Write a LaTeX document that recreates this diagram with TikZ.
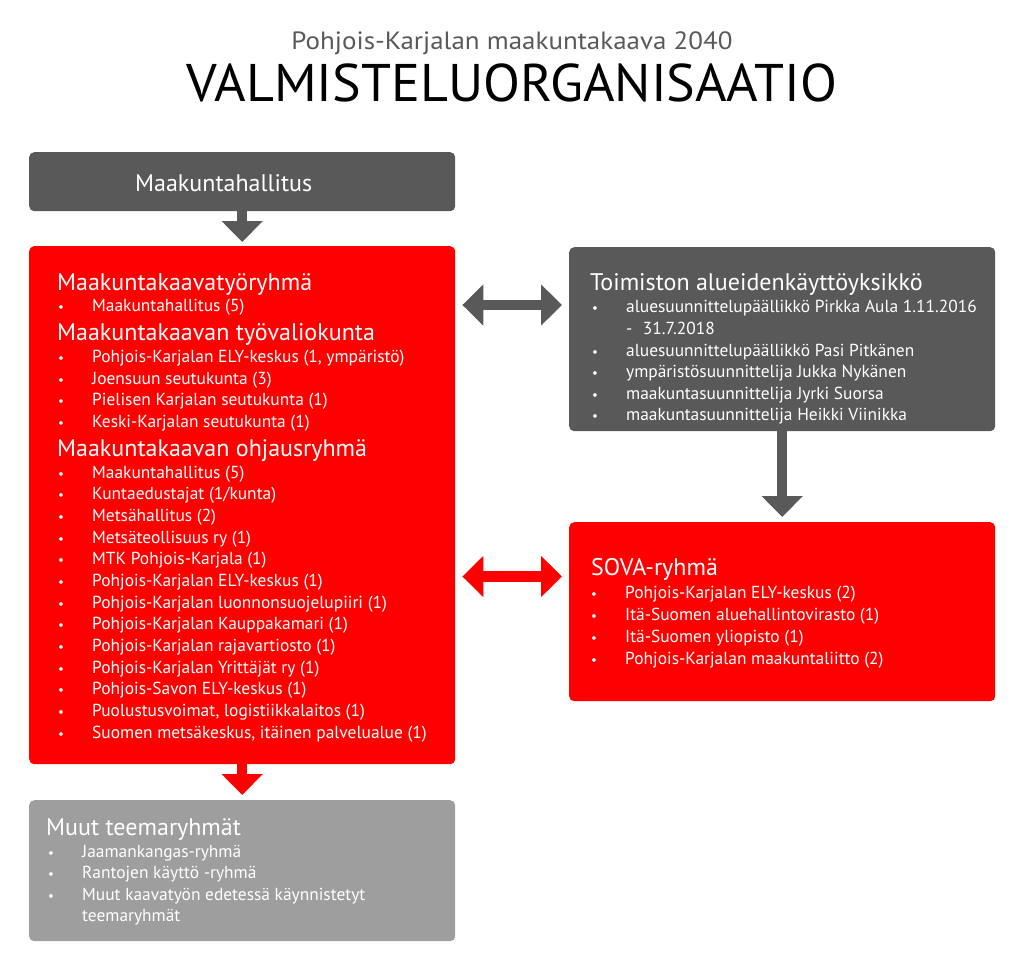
\documentclass[tikz,border=0pt]{standalone}
\usepackage{fontspec}
\setmainfont{PT Sans}
\usepackage{graphicx}
\usetikzlibrary{arrows.meta}
\definecolor{dgray}{HTML}{595959}
\definecolor{lgray}{HTML}{9E9E9E}
\definecolor{vred}{HTML}{FF0000}
\newcommand\bitem[5]{\node[bul] (b#5) at (#1,#3) {•}; \node[itm] (t#5) at (#2,#3) {#4};}
\tikzset{
  panel/.style={rounded corners=5pt, draw=none, inner sep=0, anchor=north west},
  hd/.style={anchor=base west, text=white, font=\fontsize{24}{28}\selectfont, inner sep=0},
  itm/.style={anchor=base west, text=white, font=\fontsize{17.4}{21}\selectfont, inner sep=0},
  bul/.style={anchor=base west, text=white, font=\fontsize{13}{15}\selectfont, inner sep=0},
  blockarrow/.style={line width=10.5pt, -{Triangle[width=40pt,length=21pt]}},
  dblarrow/.style={line width=10.5pt, {Triangle[width=40pt,length=21pt]}-{Triangle[width=40pt,length=21pt]}},
}
\begin{document}
\begin{tikzpicture}[x=1pt,y=-1pt]
\useasboundingbox (0,0) rectangle (1024,967);
% titles
\node[anchor=base, inner sep=0, text=dgray, font=\fontsize{25}{30}\selectfont] (sub) at (512,49)
  {\resizebox{441pt}{\height}{Pohjois-Karjalan maakuntakaava 2040}};
\node[anchor=base, inner sep=0, text=black, font=\fontsize{53}{60}\selectfont] (title) at (512,101)
  {\resizebox{651pt}{\height}{VALMISTELUORGANISAATIO}};
% panels
\node[panel, fill=dgray, minimum width=426, minimum height=59] (mh) at (29,152) {};
\node[panel, fill=vred, minimum width=426, minimum height=518] (red) at (29,246) {};
\node[panel, fill=dgray, minimum width=426, minimum height=184] (toim) at (569,247) {};
\node[panel, fill=vred, minimum width=426, minimum height=179] (sova) at (569,522) {};
\node[panel, fill=lgray, minimum width=426, minimum height=141] (muut) at (29,800) {};
% connectors
\coordinate (ya) at (0,305);
\coordinate (yb) at (0,576.5);
\draw[blockarrow, dgray, shorten >=4pt] (mh.south) -- (red.north);
\draw[dblarrow, dgray, shorten <=7pt, shorten >=7pt] (red.east |- ya) -- (toim.west |- ya);
\draw[blockarrow, dgray, shorten >=5pt] (toim.south) -- (sova.north);
\draw[dblarrow, vred, shorten <=7pt, shorten >=7pt] (red.east |- yb) -- (sova.west |- yb);
\draw[blockarrow, vred, shorten >=5pt] (red.south) -- (muut.north);
% Maakuntahallitus
\node[hd] (mhl) at (135,191) {Maakuntahallitus};
% left red panel
\node[hd] (h1) at (57,290) {Maakuntakaavatyöryhmä};
\bitem{58}{92}{311}{Maakuntahallitus (5)}{a1}
\node[hd] (h2) at (57,340) {Maakuntakaavan työvaliokunta};
\bitem{58}{92}{362}{Pohjois-Karjalan ELY-keskus (1, ympäristö)}{a2}
\bitem{58}{92}{384}{Joensuun seutukunta (3)}{a3}
\bitem{58}{92}{405}{Pielisen Karjalan seutukunta (1)}{a4}
\bitem{58}{92}{427}{Keski-Karjalan seutukunta (1)}{a5}
\node[hd] (h3) at (57,456) {Maakuntakaavan ohjausryhmä};
\bitem{58}{92}{478}{Maakuntahallitus (5)}{c1}
\bitem{58}{92}{499.7}{Kuntaedustajat (1/kunta)}{c2}
\bitem{58}{92}{521.3}{Metsähallitus (2)}{c3}
\bitem{58}{92}{543}{Metsäteollisuus ry (1)}{c4}
\bitem{58}{92}{564.7}{MTK Pohjois-Karjala (1)}{c5}
\bitem{58}{92}{586.3}{Pohjois-Karjalan ELY-keskus (1)}{c6}
\bitem{58}{92}{608}{Pohjois-Karjalan luonnonsuojelupiiri (1)}{c7}
\bitem{58}{92}{629.7}{Pohjois-Karjalan Kauppakamari (1)}{c8}
\bitem{58}{92}{651.3}{Pohjois-Karjalan rajavartiosto (1)}{c9}
\bitem{58}{92}{673}{Pohjois-Karjalan Yrittäjät ry (1)}{c10}
\bitem{58}{92}{694.7}{Pohjois-Savon ELY-keskus (1)}{c11}
\bitem{58}{92}{716.3}{Puolustusvoimat, logistiikkalaitos (1)}{c12}
\bitem{58}{92}{738.5}{Suomen metsäkeskus, itäinen palvelualue (1)}{c13}
% right gray panel
\node[hd] (h4) at (590,290) {Toimiston alueidenkäyttöyksikkö};
\bitem{592}{626}{312}{aluesuunnittelupäällikkö Pirkka Aula 1.11.2016}{d1}
\node[itm] (d1b) at (626,334) {-\hspace{0.6em}31.7.2018};
\bitem{592}{626}{356}{aluesuunnittelupäällikkö Pasi Pitkänen}{d2}
\bitem{592}{626}{377}{ympäristösuunnittelija Jukka Nykänen}{d3}
\bitem{592}{626}{399}{maakuntasuunnittelija Jyrki Suorsa}{d4}
\bitem{592}{626}{420}{maakuntasuunnittelija Heikki Viinikka}{d5}
% SOVA
\node[hd] (h5) at (591,575) {SOVA-ryhmä};
\bitem{591}{625}{598}{Pohjois-Karjalan ELY-keskus (2)}{e1}
\bitem{591}{625}{620}{Itä-Suomen aluehallintovirasto (1)}{e2}
\bitem{591}{625}{642}{Itä-Suomen yliopisto (1)}{e3}
\bitem{591}{625}{664}{Pohjois-Karjalan maakuntaliitto (2)}{e4}
% Muut
\node[hd] (h6) at (46,835) {Muut teemaryhmät};
\bitem{48}{82}{857}{Jaamankangas-ryhmä}{f1}
\bitem{48}{82}{878}{Rantojen käyttö -ryhmä}{f2}
\bitem{48}{82}{900}{Muut kaavatyön edetessä käynnistetyt}{f3}
\node[itm] (f3b) at (82,921) {teemaryhmät};
\end{tikzpicture}
\end{document}
